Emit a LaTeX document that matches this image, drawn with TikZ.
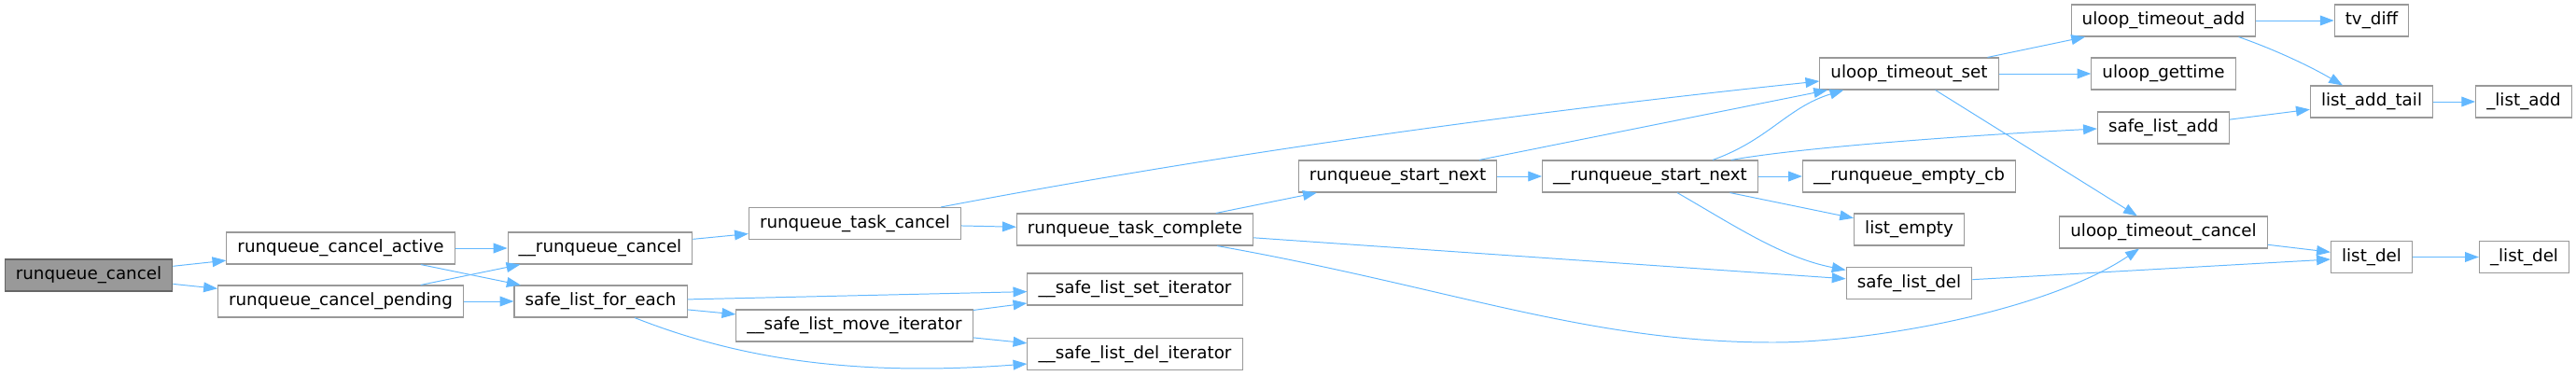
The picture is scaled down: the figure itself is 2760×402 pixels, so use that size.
\documentclass[tikz,border=0pt]{standalone}
\usepackage{fontspec}
\setmainfont{DejaVu Sans}
\usepackage{xcolor}
\definecolor{callblue}{HTML}{63B8FF}
\definecolor{boxgray}{HTML}{999999}
\definecolor{rootfill}{HTML}{999999}
\definecolor{rootline}{HTML}{666666}
\usetikzlibrary{arrows.meta,calc}

\begin{document}
\begin{tikzpicture}[x=0.025cm, y=-0.025cm,
    fn/.style={draw=boxgray, fill=white, rectangle, line width=0.8pt, minimum height=0.85cm, inner xsep=0.29cm, inner ysep=0pt, font=\fontsize{13}{15}\selectfont},
    rootfn/.style={fn, draw=rootline, fill=rootfill},
    call/.style={draw=callblue, line width=0.7pt, -{Triangle[length=0.37cm, width=0.27cm]}}]
    \useasboundingbox (0,0) rectangle (2760,402);

    % Caller
    \node[rootfn] (rc) at (95,295) {runqueue\_cancel};
    \node[fn] (rca) at (365,266) {runqueue\_cancel\_active};
    \node[fn] (rcp) at (365,323) {runqueue\_cancel\_pending};

    % Cancel path
    \node[fn] (urc) at (643,266) {\_\_runqueue\_cancel};
    \node[fn] (slfe) at (643.5,323) {safe\_list\_for\_each};
    \node[fn] (rtc) at (916,239.5) {runqueue\_task\_cancel};
    \node[fn] (smi) at (915.5,349) {\_\_safe\_list\_move\_iterator};
    \node[fn] (rtd) at (1216,246) {runqueue\_task\_complete};
    \node[fn] (ssi) at (1216,310) {\_\_safe\_list\_set\_iterator};
    \node[fn] (sdi) at (1216,379.5) {\_\_safe\_list\_del\_iterator};

    % Start next
    \node[fn] (rsn) at (1497.5,189) {runqueue\_start\_next};
    \node[fn] (ursn) at (1768,189) {\_\_runqueue\_start\_next};
    \node[fn] (uts) at (2045.5,79) {uloop\_timeout\_set};
    \node[fn] (rec) at (2045.5,189) {\_\_runqueue\_empty\_cb};
    \node[fn] (le) at (2045.5,246) {list\_empty};
    \node[fn] (sld) at (2045.5,303.5) {safe\_list\_del};

    % Timeouts and lists
    \node[fn] (uta) at (2318,22) {uloop\_timeout\_add};
    \node[fn] (ugt) at (2318,79) {uloop\_gettime};
    \node[fn] (sla) at (2318,137) {safe\_list\_add};
    \node[fn] (utc) at (2318,249) {uloop\_timeout\_cancel};
    \node[fn] (tvd) at (2541,22) {tv\_diff};
    \node[fn] (lat) at (2541,109) {list\_add\_tail};
    \node[fn] (ld) at (2541,275.5) {list\_del};
    \node[fn] (la) at (2704,109) {\_list\_add};
    \node[fn] (lde) at (2704.5,275.5) {\_list\_del};

    % Calls
    \draw[call] (rc) -- (rca);
    \draw[call] (rc) -- (rcp);
    \draw[call] (rca) -- (urc);
    \draw[call] (rca) -- (slfe);
    \draw[call] (rcp) -- (urc);
    \draw[call] (rcp) -- (slfe);
    \draw[call] (urc) -- (rtc);
    \draw[call] (slfe) -- (ssi);
    \draw[call] (slfe) -- (smi);
    \draw[call] ($(slfe.south)+(36.5,0)$) .. controls (780,380) and (902,405) .. ($(sdi.west)+(0,10.5)$);
    \draw[call] (smi) -- (ssi);
    \draw[call] (smi) -- (sdi);
    \draw[call] (rtc) -- (rtd);
    \draw[call] ($(rtc.north east)+(-22,0)$) .. controls (1318,163) and (1640,119.5) .. ($(uts.west)+(0,8)$);
    \draw[call] (rtd) -- (rsn);
    \draw[call] (rtd) -- (sld);
    \draw[call] ($(rtd.south east)+(-39,0)$) .. controls (1554,308) and (1700,367) .. (1900,367)
        .. controls (2000,367) and (2190,335) .. ($(utc.south)+(-26,0)$);
    \draw[call] (rsn) -- (ursn);
    \draw[call] (rsn) -- (uts);
    \draw[call] ($(ursn.north)+(67,0)$) .. controls (1895,150) and (1915,115) .. ($(uts.south west)+(26,0)$);
    \draw[call] ($(ursn.north)+(87,0)$) .. controls (1935,157) and (2128,144) .. ($(sla.west)+(0,1)$);
    \draw[call] (ursn) -- (rec);
    \draw[call] (ursn) -- (le);
    \draw[call] ($(ursn.south)+(29,0)$) .. controls (1857,241) and (1909,276) .. ($(sld.north west)+(0,3.5)$);
    \draw[call] (uts) -- (uta);
    \draw[call] (uts) -- (ugt);
    \draw[call] (uts) -- (utc);
    \draw[call] (uta) -- (tvd);
    \draw[call] ($(uta.south east)+(-19,0)$) .. controls (2437,53) and (2475,71) .. ($(lat.north)+(-31,0)$);
    \draw[call] (sla) -- (lat);
    \draw[call] (lat) -- (la);
    \draw[call] (utc) -- (ld);
    \draw[call] (sld) -- (ld);
    \draw[call] (ld) -- (lde);
\end{tikzpicture}
\end{document}
